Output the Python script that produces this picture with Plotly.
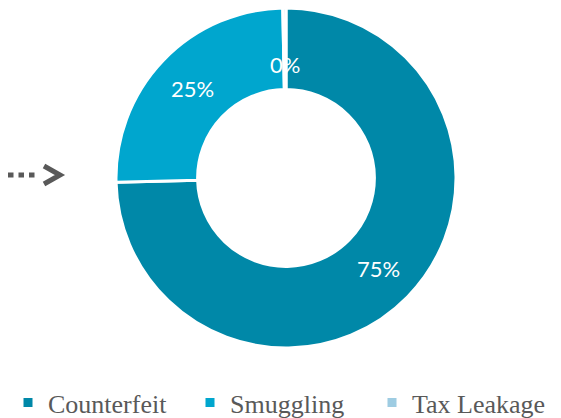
import math
import plotly.graph_objects as go

categories = ["Counterfeit", "Smuggling", "Tax Leakage"]
values = [74.6, 25.1, 0.3]
colors = ["#0088A8", "#00A6CE", "#9ECCE2"]

# page body adds an 8px margin, so the figure is drawn 8px smaller and offset
OFF = 8
W, H = 561 - OFF, 418 - OFF
CX, CY, R = 286 - OFF, 178 - OFF, 170   # donut centre / radius in figure pixels
HOLE = 0.52


def fx(x):
    return (x - OFF) / W


def fy(y):
    return 1 - (y - OFF) / H


def clamp(v):
    return max(0.0, min(1.0, v))


fig = go.Figure()
fig.add_trace(go.Pie(
    labels=categories,
    values=values,
    hole=HOLE,
    sort=False,
    direction="clockwise",
    rotation=0,
    marker=dict(colors=colors, line=dict(color="white", width=3)),
    texttemplate=["%{percent:.0%}", "%{percent:.0%}", ""],
    textposition="inside",
    insidetextorientation="horizontal",
    textfont=dict(family="Lato", size=22, color="white"),
    domain=dict(x=[clamp((CX - R) / W), clamp((CX + R) / W)],
                y=[clamp((H - CY - R) / H), clamp((H - CY + R) / H)]),
    showlegend=True,
))

# label for the tiny slice, placed at the middle of its ring segment
total = sum(values)
cum = sum(values[:2]) + values[2] / 2
theta = 2 * math.pi * cum / total
rmid = R * (1 + HOLE) / 2
px = CX + rmid * math.sin(theta)
py = CY - rmid * math.cos(theta)
pct = values[2] / total
fig.add_annotation(x=px / W, y=1 - py / H, xref="paper", yref="paper",
                   text=f"{pct:.0%}", showarrow=False,
                   font=dict(family="Lato", size=22, color="white"))

# dotted arrow on the left
ya = fy(175)
fig.add_shape(type="line", xref="paper", yref="paper",
              x0=0.0, x1=fx(38), y0=ya, y1=ya,
              line=dict(color="#595959", width=5, dash="5.5px,5px"))
fig.add_shape(type="path", xref="paper", yref="paper",
              path=f"M {fx(44)} {fy(166)} L {fx(60)} {ya} L {fx(44)} {fy(184)}",
              line=dict(color="#595959", width=5))

fig.update_layout(
    width=W, height=H,
    margin=dict(l=0, r=0, t=0, b=0, autoexpand=False),
    paper_bgcolor="white", plot_bgcolor="white",
    legend=dict(orientation="h", x=fx(281), xanchor="center", y=-0.02, yanchor="bottom",
                font=dict(family="Liberation Serif", size=26, color="#595959"),
                itemwidth=30, entrywidth=137, traceorder="normal"),
)

fig.write_html("out.html")
